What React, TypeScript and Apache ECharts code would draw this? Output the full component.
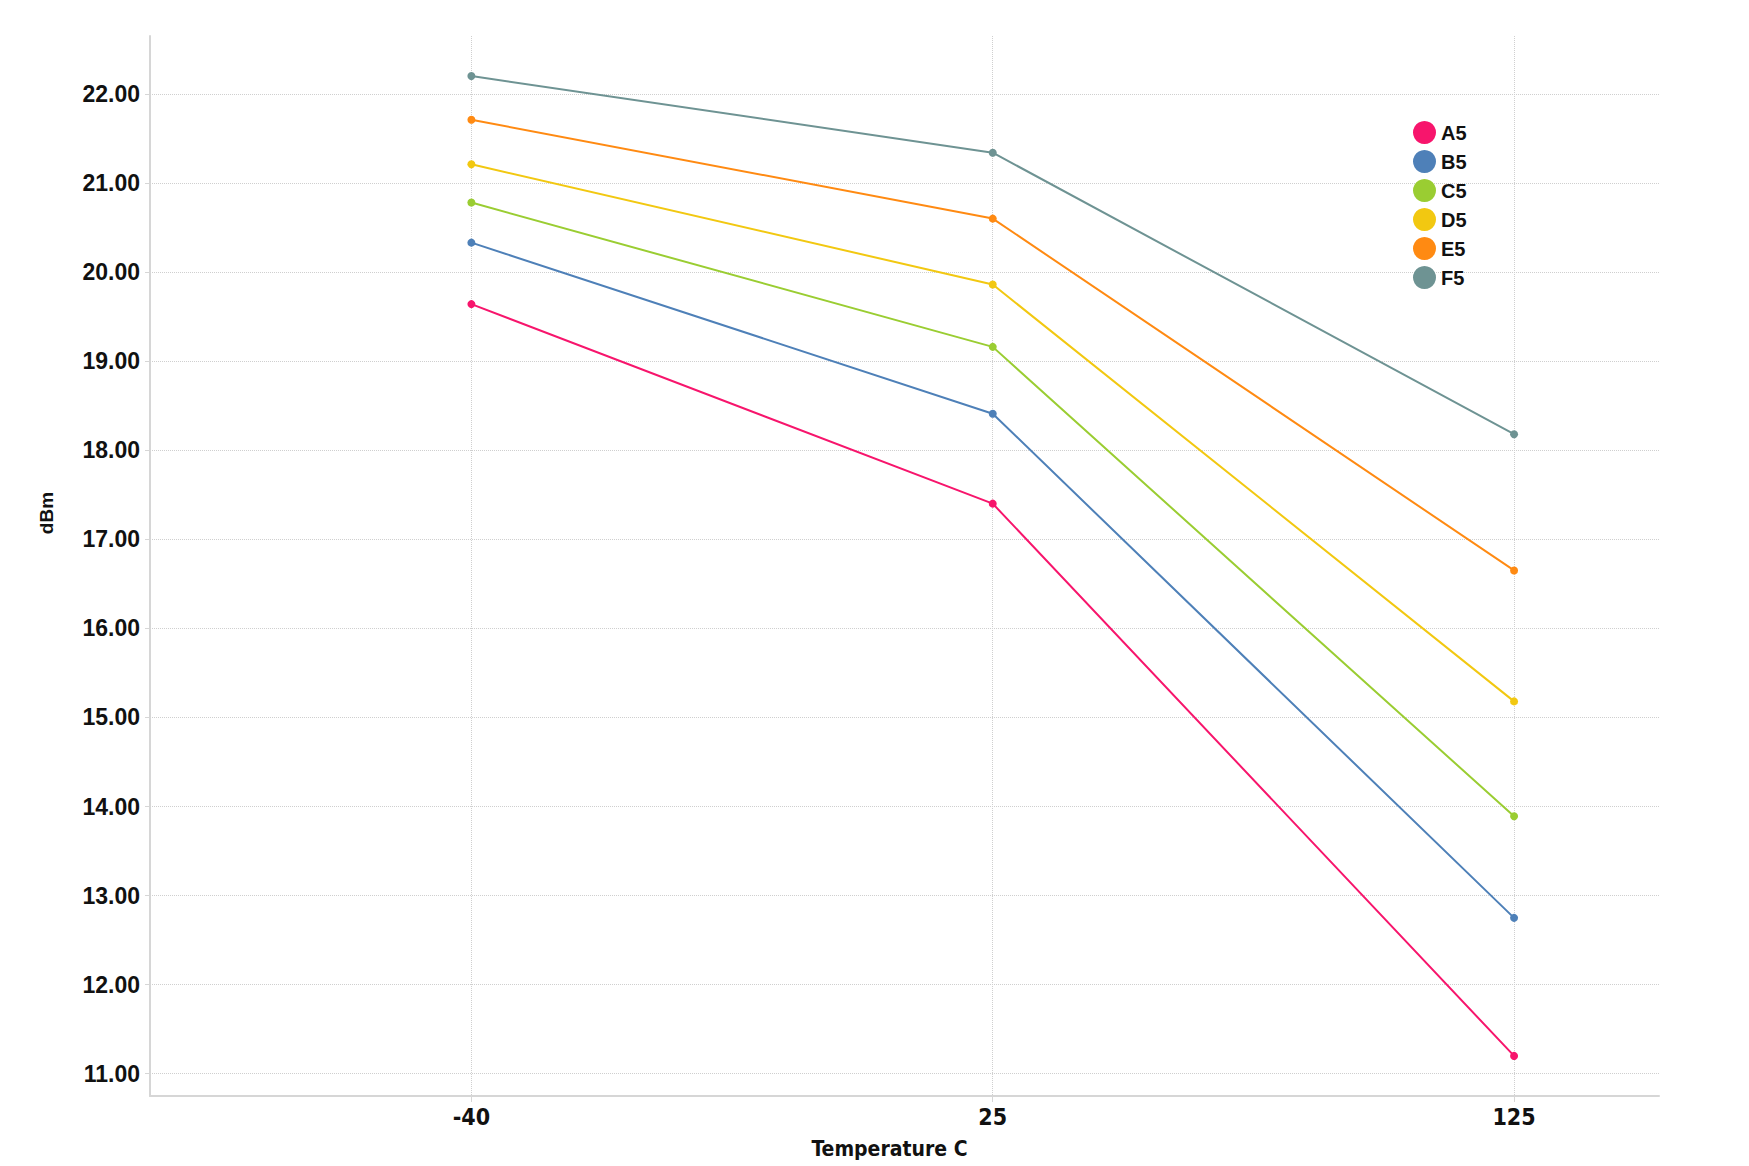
import React, { useEffect, useRef } from "react";
import * as echarts from "echarts";

const categories = ["-40", "25", "125"];
const seriesNames = ["A5", "B5", "C5", "D5", "E5", "F5"];
const seriesColors = ["#F7156C", "#4E80B8", "#9ACD32", "#F2C811", "#FF8A12", "#6E9393"];
const valuesA5 = [19.64, 17.4, 11.2];
const valuesB5 = [20.33, 18.41, 12.75];
const valuesC5 = [20.78, 19.16, 13.89];
const valuesD5 = [21.21, 19.86, 15.18];
const valuesE5 = [21.71, 20.6, 16.65];
const valuesF5 = [22.2, 21.34, 18.18];
const yTicks = [11, 12, 13, 14, 15, 16, 17, 18, 19, 20, 21, 22];
const allValues = [valuesA5, valuesB5, valuesC5, valuesD5, valuesE5, valuesF5];

export default function App() {
  const ref = useRef<HTMLDivElement>(null);
  useEffect(() => {
    if (!ref.current) return;
    const chart = echarts.init(ref.current, null, { renderer: "svg" });
    const xIdx = categories.map((_, i) => i);
    const gridColor = "#cfcfcf";
    const narrow = "'Liberation Sans Narrow', 'Arial Narrow', 'DejaVu Sans Condensed', sans-serif";
    chart.setOption({
      animation: false,
      backgroundColor: "#ffffff",
      grid: { left: 150, right: 90, top: 36, bottom: 70 },
      legend: {
        orient: "vertical",
        left: 1408,
        top: 116,
        icon: "circle",
        itemWidth: 23,
        itemHeight: 23,
        itemGap: 6,
        textStyle: { fontFamily: "'Liberation Sans', Arial, sans-serif", fontWeight: "bold", fontSize: 20, color: "#111" },
        data: seriesNames,
      },
      xAxis: {
        type: "value",
        min: -0.6165,
        max: 2.278,
        name: "Temperature C",
        nameLocation: "middle",
        nameGap: 42,
        nameTextStyle: {
          fontFamily: narrow,
          fontWeight: "bold",
          fontSize: 21,
          color: "#111",
          padding: [0, 30, 0, 0],
        },
        axisLine: { show: true, onZero: false, lineStyle: { color: "#d6d6d6", width: 2 } },
        axisTick: { show: true, customValues: xIdx, length: 6, lineStyle: { color: "#d6d6d6" } },
        axisLabel: {
          customValues: xIdx,
          formatter: (v: number) => categories[Math.round(v)] ?? "",
          fontFamily: narrow,
          fontWeight: "bold",
          fontSize: 23,
          color: "#111",
          margin: 9,
        },
        splitLine: { show: true, lineStyle: { color: gridColor, type: "dotted", width: 1 } },
      },
      yAxis: {
        type: "value",
        min: 10.75,
        max: 22.65,
        name: "dBm",
        nameLocation: "middle",
        nameRotate: 90,
        nameGap: 94,
        nameTextStyle: {
          fontFamily: "'Liberation Sans', Arial, sans-serif",
          fontWeight: "bold",
          fontSize: 19,
          color: "#111",
          padding: [0, 0, 0, 106],
        },
        axisLine: { show: true, onZero: false, lineStyle: { color: "#d6d6d6", width: 2 } },
        axisTick: { show: true, customValues: yTicks, length: 5, lineStyle: { color: "#d6d6d6" } },
        axisLabel: {
          customValues: yTicks,
          formatter: (v: number) => v.toFixed(2),
          fontFamily: "'Liberation Sans', Arial, sans-serif",
          fontWeight: "bold",
          fontSize: 23,
          color: "#111",
          margin: 10,
        },
        splitLine: { show: true, lineStyle: { color: gridColor, type: "dotted", width: 1 } },
      },
      series: seriesNames.map((name, s) => ({
        name,
        type: "line",
        data: allValues[s].map((v, i) => [xIdx[i], v]),
        symbol: "circle",
        symbolSize: 8,
        color: seriesColors[s],
        lineStyle: { width: 2, color: seriesColors[s] },
        itemStyle: { color: seriesColors[s] },
      })),
    });
    return () => chart.dispose();
  }, []);
  return (
    <div
      ref={ref}
      style={{ position: "absolute", left: 0, top: 0, width: 1749, height: 1166 }}
    />
  );
}
